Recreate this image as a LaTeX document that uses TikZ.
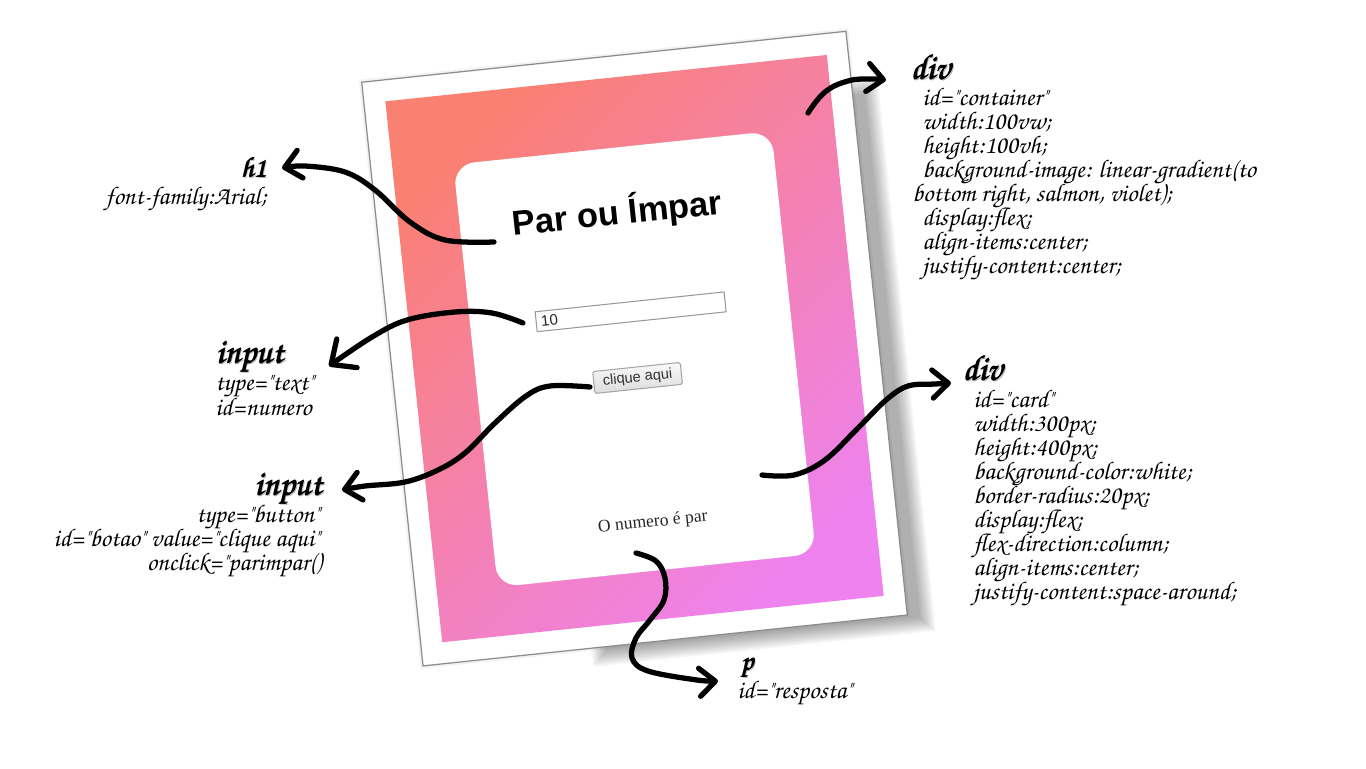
\documentclass[tikz,border=0pt]{standalone}
\usepackage{fontspec}
\setmainfont{Liberation Sans}
\newfontfamily\serifweb{Liberation Serif}
\DeclareFontEncoding{T1}{}{}
\newcommand{\hwfont}{\usefont{T1}{pzc}{mb}{it}}
\newcommand{\fb}[1]{\rlap{\kern1pt\raisebox{-1pt}{\textcolor{black!30}{#1}}}\rlap{#1}\kern0.35pt\rlap{#1}\kern0.35pt\raisebox{0.3pt}{#1}}
\usetikzlibrary{arrows.meta}
\definecolor{salmonc}{HTML}{FA8072}
\definecolor{violetc}{HTML}{EE82EE}
\tikzset{
  hw/.style={font=\hwfont\fontsize{14.5}{16}\selectfont, inner sep=0, anchor=base west},
  hwr/.style={hw, anchor=base east},
  hwh/.style={font=\hwfont\fontsize{20}{22}\selectfont, inner sep=0, anchor=base west},
  hwhr/.style={hwh, anchor=base east},
  hws/.style={font=\hwfont\fontsize{16}{17}\selectfont, inner sep=0, anchor=base west},
  hand/.style={line width=3pt, line cap=round, line join=round,
    -{Straight Barb[length=9pt,width=16pt,round]}},
}
\begin{document}
\begin{tikzpicture}[x=0.02cm,y=-0.02cm]
\useasboundingbox (0,0) rectangle (1366,768);
\fill[white] (0,0) rectangle (1366,768);
% ---------------- page (rotated screenshot) ----------------
\begin{scope}[shift={(634.5,348.6)}, rotate=6, transform shape]
  \foreach \k in {0,...,7}{
    \fill[black, opacity=0.045] (-60-2*\k,-230-2*\k) rectangle (256+2*\k,298+2*\k);
  }
  \fill[black, opacity=0.05] (-246,-296) rectangle (246,296);
  \node[draw=black!45, line width=0.7pt, fill=white, minimum width=9.74cm, minimum height=11.74cm, inner sep=0] (page) at (0,0) {};
  \node[shade, shading=axis, top color=salmonc, bottom color=violetc, shading angle=45, minimum width=8.88cm, minimum height=10.88cm, inner sep=0] (bg) at (0,0) {};
  \node[fill=white, rounded corners=0.42cm, minimum width=6.4cm, minimum height=8.5cm, inner sep=0] (card) at (-1,10.5) {};
  \node[font=\bfseries\fontsize{19.6}{22}\selectfont, anchor=base, inner sep=0] (title) at (-3,-125) {Par ou Ímpar};
  \node[draw=black!40, line width=0.6pt, fill=white, minimum height=0.4cm, inner xsep=0.1cm, inner ysep=0, text width=3.6cm, align=left, font=\fontsize{8.6}{9}\selectfont, text=black!85] (inp) at (0,-37) {10};
  \node[draw=black!35, line width=0.6pt, top color=black!2, bottom color=black!14, rounded corners=1pt, minimum width=1.76cm, minimum height=0.44cm, inner sep=0, font=\fontsize{8.3}{9}\selectfont, text=black!80] (btn) at (0,29.5) {clique aqui};
  \node[font=\serifweb\fontsize{10}{12}\selectfont, text=black!85, inner sep=0] (resp) at (0,175) {O numero é par};
\end{scope}
% ---------------- annotations ----------------
\node[hwh] (divc) at (910,79) {\fb{div}};
\node[hw] (dc1) at (922,105) {id="container"};
\node[hw] (dc2) at (922,129) {width:100vw;};
\node[hw] (dc3) at (922,153) {height:100vh;};
\node[hw] (dc4) at (922,177) {background-image: linear-gradient(to};
\node[hw] (dc5) at (912,201) {bottom right, salmon, violet);};
\node[hw] (dc6) at (922,225) {display:flex;};
\node[hw] (dc7) at (922,249) {align-items:center;};
\node[hw] (dc8) at (922,273) {justify-content:center;};

\node[hwh] (divk) at (962,380) {\fb{div}};
\node[hw] (dk1) at (973,407) {id="card"};
\node[hw] (dk2) at (973,431) {width:300px;};
\node[hw] (dk3) at (973,455) {height:400px;};
\node[hw] (dk4) at (973,479) {background-color:white;};
\node[hw] (dk5) at (973,503) {border-radius:20px;};
\node[hw] (dk6) at (973,527) {display:flex;};
\node[hw] (dk7) at (973,551) {flex-direction:column;};
\node[hw] (dk8) at (973,575) {align-items:center;};
\node[hw] (dk9) at (973,599) {justify-content:space-around;};

\node[hws, anchor=base east] (h1l) at (267,177) {\fb{h1}};
\node[hwr] (h1a) at (267,204) {font-family:Arial;};

\node[hwh] (in1) at (215,363) {\fb{input}};
\node[hw] (in1a) at (215,390) {type="text"};
\node[hw] (in1b) at (215,415) {id=numero};

\node[hwhr] (in2) at (323,495) {\fb{input}};
\node[hwr] (in2a) at (320,522) {type="button"};
\node[hwr] (in2b) at (320,546) {id="botao" value="clique aqui"};
\node[hwr] (in2c) at (322,570) {onclick="parimpar()};

\node[hws] (pl) at (740,670) {\fb{p}};
\node[hw] (pa) at (737,698) {id="resposta"};
% ---------------- connectors ----------------
\coordinate (c1s) at (808,113);  \coordinate (c1e) at (886,80);
\coordinate (h1s) at (494,242);  \coordinate (h1e) at (282,168);
\coordinate (i1s) at (523,323);  \coordinate (i1e) at (329,366);
\coordinate (b1s) at (590,387);  \coordinate (b1e) at (342,490);
\coordinate (k1s) at (762,475);  \coordinate (k1e) at (951,383);
\coordinate (p1s) at (636,553);  \coordinate (p1e) at (718,681);
\draw[hand] plot[smooth, tension=0.7] coordinates {(c1s) (825,92) (848,81) (870,79) (c1e)};
\draw[hand] plot[smooth, tension=0.6] coordinates {(h1s) (445,240) (410,222) (375,190) (345,172) (305,166) (h1e)};
\draw[hand, -{Straight Barb[length=11pt,width=20pt,round]}] plot[smooth, tension=0.6] coordinates {(i1s) (492,313) (455,312) (407,320) (372,337) (i1e)};
\draw[hand] plot[smooth, tension=0.6] coordinates {(b1s) (550,386) (526,396) (495,423) (465,453) (438,470) (405,482) (365,486) (b1e)};
\draw[hand] plot[smooth, tension=0.6] coordinates {(k1s) (794,475) (825,460) (858,428) (886,400) (908,386) (935,384) (k1e)};
\draw[hand] plot[smooth, tension=0.6] coordinates {(p1s) (656,561) (665,578) (664,600) (650,620) (636,638) (632,658) (648,671) (697,680) (p1e)};
\end{tikzpicture}
\end{document}
